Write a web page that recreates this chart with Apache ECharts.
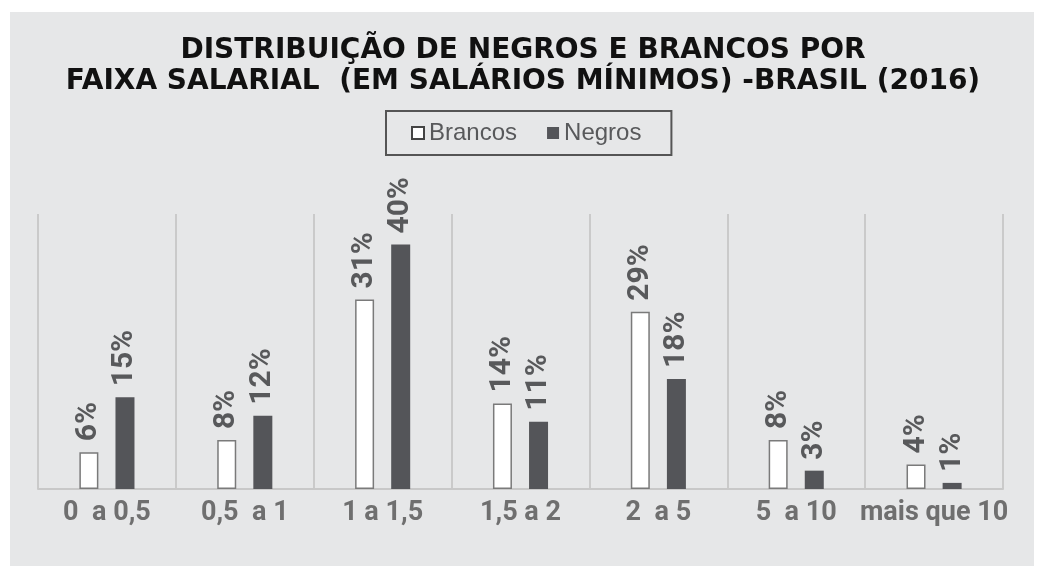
<!DOCTYPE html>
<html>

<head>
    <meta charset="utf-8" />
    <title>Distribuição de negros e brancos por faixa salarial</title>
    <script src="https://cdn.jsdelivr.net/npm/echarts@6/dist/echarts.min.js"></script>
    <style>
        html, body { margin: 0; padding: 0; background: #ffffff; }
        #chart { width: 1046px; height: 575px; }
    </style>
</head>

<body>
    <div id="chart"></div>
    <script>
        // dados (%)
        var faixas = ['0  a 0,5', '0,5  a 1', '1 a 1,5', '1,5 a 2', '2  a 5', '5  a 10', 'mais que 10'];
        var brancos = [6, 8, 31, 14, 29, 8, 4];
        var negros = [15, 12, 40, 11, 18, 3, 1];

        var narrow = "Roboto, sans-serif";

        var myChart = echarts.init(document.getElementById('chart'));

        var labelStyle = {
            show: true,
            position: 'top',
            rotate: 90,
            align: 'left',
            verticalAlign: 'middle',
            distance: 11,
            formatter: '{c}%',
            color: '#58595b',
            fontFamily: narrow,
            fontWeight: 'bold',
            fontSize: 30
        };

        var option = {
            backgroundColor: '#ffffff',
            animation: false,
            graphic: [{
                type: 'rect',
                z: -10,
                shape: { x: 10, y: 12, width: 1024, height: 554 },
                style: { fill: '#e6e7e8' }
            }],
            title: {
                text: 'DISTRIBUIÇÃO DE NEGROS E BRANCOS POR\nFAIXA SALARIAL  (EM SALÁRIOS MÍNIMOS) -BRASIL (2016)',
                left: 'center',
                top: 30,
                textStyle: {
                    fontFamily: "'DejaVu Sans', sans-serif",
                    fontWeight: 'bold',
                    fontSize: 28,
                    lineHeight: 31,
                    color: '#111111'
                }
            },
            legend: {
                left: 386,
                top: 111,
                padding: [10, 30, 10, 25],
                borderColor: '#555555',
                borderWidth: 2,
                itemWidth: 12,
                itemHeight: 12,
                itemGap: 30,
                textStyle: {
                    fontFamily: "'Liberation Sans', sans-serif",
                    fontSize: 24,
                    color: '#58595b'
                },
                data: [
                    { name: 'Brancos', icon: 'rect', itemStyle: { color: '#ffffff', borderColor: '#444444', borderWidth: 2 } },
                    { name: 'Negros', icon: 'rect', itemStyle: { color: '#545559', borderWidth: 0 } }
                ]
            },
            grid: {
                left: 38,
                right: 43,
                top: 214,
                bottom: 86
            },
            xAxis: {
                type: 'category',
                data: faixas,
                axisLine: { lineStyle: { color: '#c8c8c8', width: 2 } },
                axisTick: { show: false },
                splitLine: { show: true, interval: 0, lineStyle: { color: '#cacaca', width: 2 } },
                axisLabel: {
                    interval: 0,
                    margin: 11,
                    color: '#6f6f6f',
                    fontFamily: narrow,
                    fontWeight: 'bold',
                    fontSize: 27
                }
            },
            yAxis: {
                type: 'value',
                min: 0,
                max: 45,
                show: false,
                splitLine: { show: false }
            },
            series: [
                {
                    name: 'Brancos',
                    type: 'bar',
                    data: brancos,
                    barWidth: 19,
                    barGap: '90%',
                    itemStyle: { color: '#ffffff', borderColor: '#7a7a7a', borderWidth: 1.5 },
                    label: labelStyle
                },
                {
                    name: 'Negros',
                    type: 'bar',
                    data: negros,
                    barWidth: 19,
                    itemStyle: { color: '#545559' },
                    label: labelStyle
                }
            ]
        };
        myChart.setOption(option);
    </script>
</body>

</html>
